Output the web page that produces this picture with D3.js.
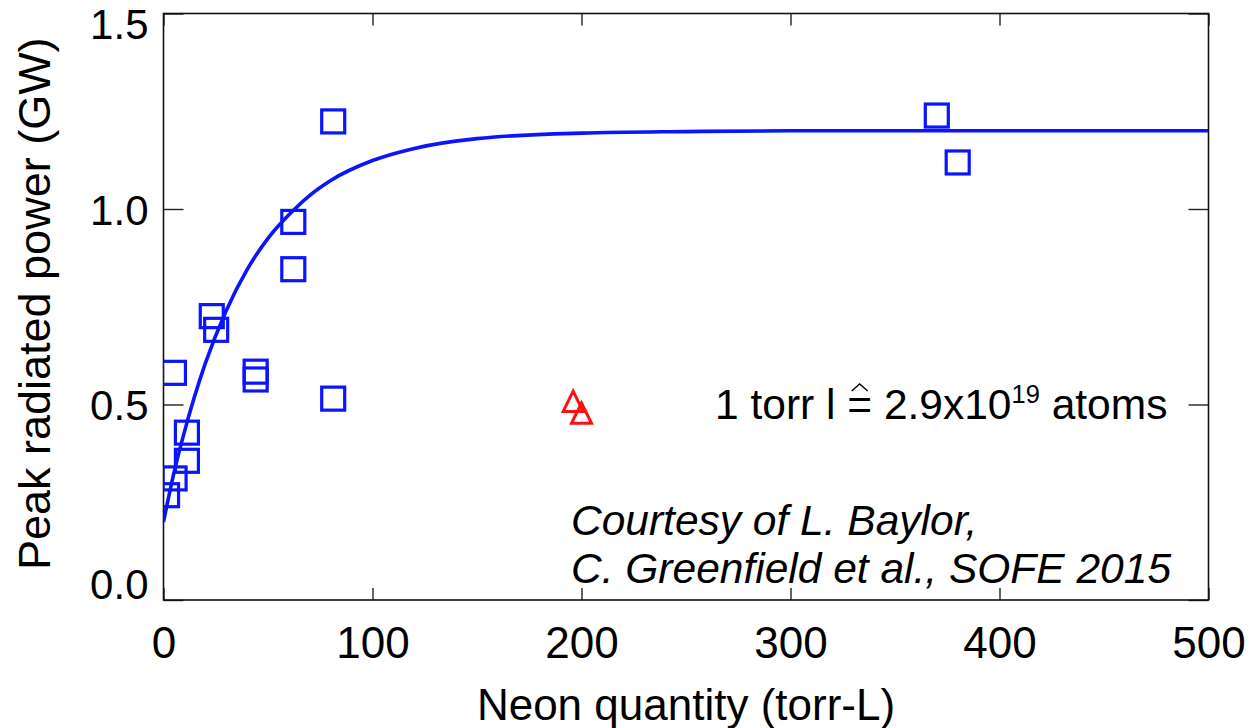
<!DOCTYPE html>
<html>
<head>
<meta charset="utf-8">
<script src="https://cdn.jsdelivr.net/npm/d3@7"></script>
<style>
  body { margin: 0; background: #fff; }
  text { font-family: "Liberation Sans", Arial, Helvetica, sans-serif; fill: #000; }
</style>
</head>
<body>
<div id="graph"></div>
<script>
const width = 1259,
    height = 728,
    frameL = 163.5,   // plot frame
    frameR = 1208.5,
    frameT = 13.5,
    frameB = 600;

// measured shots: neon quantity (torr-L) vs peak radiated power (GW)
const shotNeon  = [1.7, 5.3, 5.0, 11.2, 11.2, 23.1, 25.2, 44.1, 44.1, 62.1, 62.1, 81.2, 81.2, 370, 380];
const shotPower = [0.268, 0.311, 0.581, 0.356, 0.428, 0.726, 0.691, 0.584, 0.564, 0.967, 0.846, 1.224, 0.515, 1.239, 1.119];

// the two red triangle shots
const triNeon  = [196, 200];
const triPower = [0.508, 0.478];

// saturation fit, sampled
const fitNeon  = [0, 5, 10, 20, 30, 40, 50, 60, 70, 80, 100, 120, 150, 200, 250, 300, 400, 500];
const fitPower = [0.20, 0.325, 0.43, 0.605, 0.74, 0.845, 0.925, 0.985, 1.035, 1.073, 1.124, 1.155, 1.18, 1.194, 1.198, 1.2, 1.2, 1.2];

const xTicks = [0, 100, 200, 300, 400, 500];
const yTicks = [0, 0.5, 1.0, 1.5];

const x = d3.scaleLinear().domain([0, 500]).range([frameL, frameR]);
const y = d3.scaleLinear().domain([0, 1.5]).range([frameB, frameT]);

const svg = d3.select("#graph")
    .append("svg")
    .attr("width", width)
    .attr("height", height);

svg.append("defs").append("clipPath")
    .attr("id", "plot")
  .append("rect")
    .attr("x", frameL).attr("y", frameT)
    .attr("width", frameR - frameL).attr("height", frameB - frameT);

// ticks point inward on all four sides
const xAxisB = d3.axisBottom(x).tickValues(xTicks).tickSizeInner(-12).tickSizeOuter(0).tickFormat(d3.format("d"));
const xAxisT = d3.axisTop(x).tickValues(xTicks).tickSizeInner(-12).tickSizeOuter(0).tickFormat("");
const yAxisL = d3.axisLeft(y).tickValues(yTicks).tickSizeInner(-20).tickSizeOuter(0).tickFormat(d3.format(".1f"));
const yAxisR = d3.axisRight(y).tickValues(yTicks).tickSizeInner(-20).tickSizeOuter(0).tickFormat("");

const gxb = svg.append("g").attr("transform", "translate(0," + frameB + ")").call(xAxisB);
const gxt = svg.append("g").attr("transform", "translate(0," + frameT + ")").call(xAxisT);
const gyl = svg.append("g").attr("transform", "translate(" + frameL + ",0)").call(yAxisL);
const gyr = svg.append("g").attr("transform", "translate(" + frameR + ",0)").call(yAxisR);

[gxb, gxt, gyl, gyr].forEach(function (g) {
    g.select(".domain").remove();
    g.selectAll(".tick line").attr("stroke", "#222").attr("stroke-width", 1.4);
});

gxb.selectAll(".tick text")
    .attr("y", 58).attr("dy", null)
    .style("font-size", "44px");

gyl.selectAll(".tick text")
    .attr("x", -15)
    .attr("dy", function (d) { return d === 1.5 ? "25px" : d === 0 ? "-2px" : "15px"; })
    .style("font-size", "42px");

// frame
svg.append("rect")
    .attr("x", frameL).attr("y", frameT)
    .attr("width", frameR - frameL).attr("height", frameB - frameT)
    .attr("fill", "none").attr("stroke", "#111").attr("stroke-width", 1.6);

const plot = svg.append("g").attr("clip-path", "url(#plot)");

const line = d3.line()
    .x(function (d) { return x(d[0]); })
    .y(function (d) { return y(d[1]); })
    .curve(d3.curveMonotoneX);

plot.append("path")
    .datum(d3.zip(fitNeon, fitPower))
    .attr("d", line)
    .attr("fill", "none")
    .attr("stroke", "#0a14ff")
    .attr("stroke-width", 3.6);

const sq = 23;
plot.selectAll("rect.shot")
    .data(d3.zip(shotNeon, shotPower))
    .enter()
    .append("rect")
    .attr("class", "shot")
    .attr("x", function (d) { return x(d[0]) - sq / 2; })
    .attr("y", function (d) { return y(d[1]) - sq / 2; })
    .attr("width", sq)
    .attr("height", sq)
    .attr("fill", "none")
    .attr("stroke", "#0a14ff")
    .attr("stroke-width", 3.2);

const tw = 20, th = 20.5;
plot.selectAll("path.tri")
    .data(d3.zip(triNeon, triPower))
    .enter()
    .append("path")
    .attr("class", "tri")
    .attr("d", function (d) {
        const cx = x(d[0]), cy = y(d[1]);
        return "M" + cx + "," + (cy - th / 2) +
               "L" + (cx + tw / 2) + "," + (cy + th / 2) +
               "L" + (cx - tw / 2) + "," + (cy + th / 2) + "Z";
    })
    .attr("fill", "none")
    .attr("stroke", "#ff1010")
    .attr("stroke-width", 3);

// conversion note
const note = svg.append("text")
    .attr("x", 715).attr("y", 419)
    .style("font-size", "42.5px");
note.append("tspan").text("1 torr l = 2.9x10");
note.append("tspan").attr("dy", -16).style("font-size", "25.5px").text("19");
note.append("tspan").attr("dy", 16).text(" atoms");

// hat over the "=" sign
const eq = "1 torr l ".length;
const n = note.node();
const x0 = n.getStartPositionOfChar(eq).x,
    x1 = n.getEndPositionOfChar(eq).x,
    xm = (x0 + x1) / 2;
svg.append("path")
    .attr("d", "M" + (xm - 8) + ",391L" + xm + ",384L" + (xm + 8) + ",391")
    .attr("fill", "none")
    .attr("stroke", "#000")
    .attr("stroke-width", 1.4);

svg.append("text")
    .attr("x", 571).attr("y", 535)
    .style("font-size", "42.5px").style("font-style", "italic")
    .text("Courtesy of L. Baylor,");
svg.append("text")
    .attr("x", 571).attr("y", 583)
    .style("font-size", "42.5px").style("font-style", "italic")
    .text("C. Greenfield et al., SOFE 2015");

// axis titles
svg.append("text")
    .attr("x", (frameL + frameR) / 2).attr("y", 720)
    .attr("text-anchor", "middle")
    .style("font-size", "44px")
    .text("Neon quantity (torr-L)");

svg.append("text")
    .attr("transform", "translate(50," + ((frameT + frameB) / 2 - 3) + ") rotate(-90)")
    .attr("text-anchor", "middle")
    .style("font-size", "45px")
    .text("Peak radiated power (GW)");
</script>
</body>
</html>
